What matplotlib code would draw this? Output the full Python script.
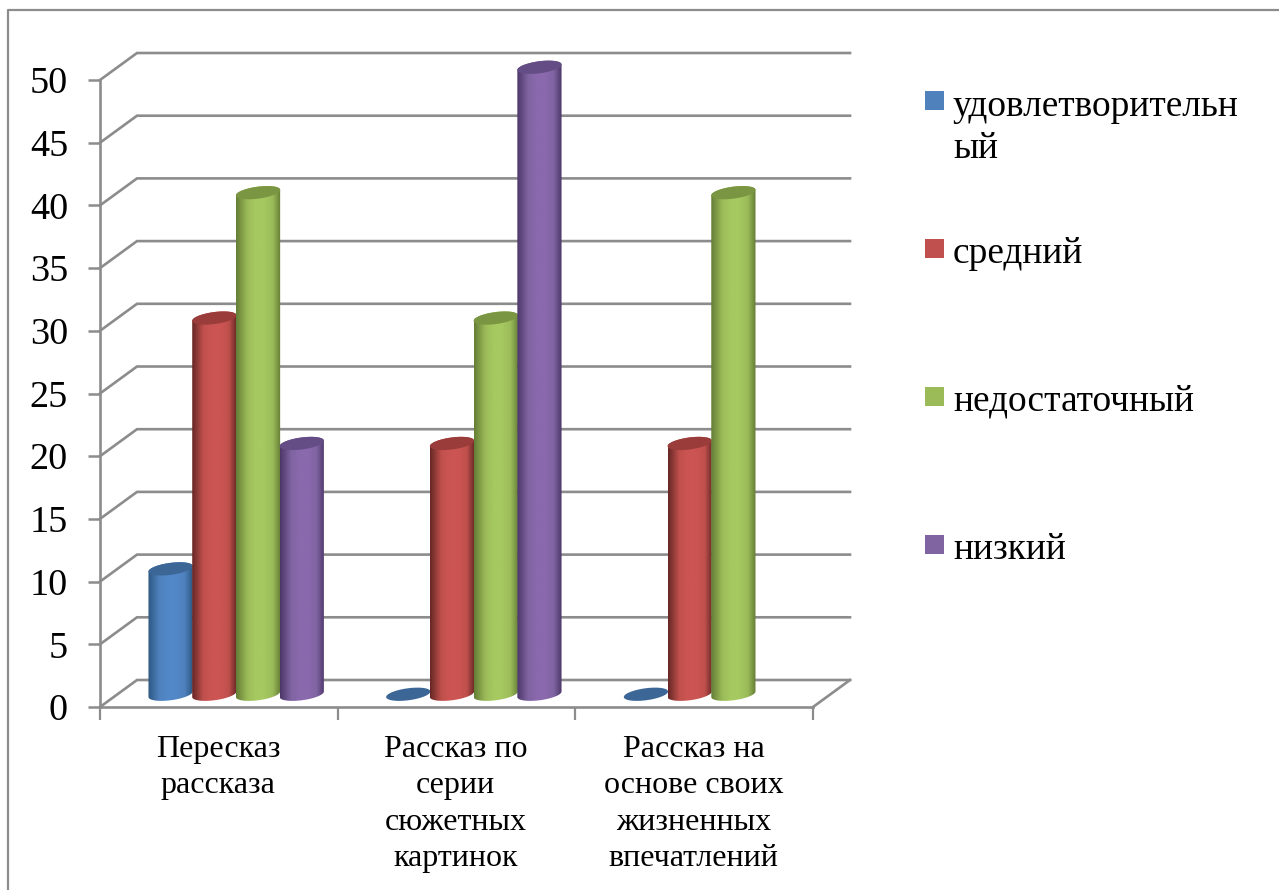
import numpy as np
import matplotlib
matplotlib.use("Agg")
import matplotlib.pyplot as plt
from matplotlib.colors import LinearSegmentedColormap
from matplotlib.patches import PathPatch, Rectangle
from matplotlib.path import Path

plt.rcParams["font.family"] = ["Liberation Serif", "DejaVu Serif"]

categories = ["Пересказ\nрассказа",
              "Рассказ по\nсерии\nсюжетных\nкартинок",
              "Рассказ на\nоснове своих\nжизненных\nвпечатлений"]
series_names = ["удовлетворительн\nый", "средний", "недостаточный", "низкий"]
satisfactory = [10, 0, 0]
average = [30, 20, 20]
insufficient = [40, 30, 40]
low = [20, 50, None]
y_ticks = list(range(0, 55, 5))

series_values = [satisfactory, average, insufficient, low]
face_colors = ["#4f81bd", "#c0504d", "#9bbb59", "#8064a2"]
light_colors = ["#5288c8", "#cc5553", "#a6c961", "#8a69ad"]
edge_colors = ["#2c5782", "#662725", "#647d35", "#4c3768"]
cap_colors = ["#3b6696", "#9a3d3a", "#7a9642", "#644c84"]

GRID = "#8c8c8c"
W, H = 1279, 890
fig = plt.figure(figsize=(W / 100, H / 100), dpi=100, facecolor="white")
ax = fig.add_axes([100 / W, 1 - 707 / H, 713 / W, 627 / H])
ax.set_xlim(0, 3)
ax.set_ylim(0, 50)
ax.patch.set_visible(False)

# Depth of the 3D box, expressed in data units
depth_x = 37 / 713 * 3
depth_y = 27 / 627 * 50

for spine in ("top", "right"):
    ax.spines[spine].set_visible(False)
for spine in ("left", "bottom"):
    ax.spines[spine].set_color(GRID)
    ax.spines[spine].set_linewidth(1.9)

ax.set_yticks(y_ticks)
ax.set_xticks(range(4))
ax.set_xticklabels([])
ax.tick_params(axis="y", length=9, width=1.8, color=GRID, labelsize=27.5, pad=14,
               labelcolor="black")
ax.tick_params(axis="x", length=9, width=1.6, color=GRID)

# Side wall and back wall gridlines
for v in y_ticks:
    ax.plot([0, depth_x, 3 + depth_x], [v, v + depth_y, v + depth_y],
            color=GRID, lw=1.9, clip_on=False, zorder=1, solid_joinstyle="miter")
ax.plot([3, 3 + depth_x], [0, depth_y], color=GRID, lw=1.9, clip_on=False, zorder=1)

# Cylinders
bar_offsets = [0.297, 0.481, 0.665, 0.849]
radius_x = 0.093
radius_y = 0.48
tilt = 0.22
base_y = depth_y / 2 - 0.06
t = np.linspace(0, 2 * np.pi, 121)


def ring(cx, cy, angles):
    return np.column_stack([cx + radius_x * np.cos(angles),
                            cy + radius_y * np.sin(angles) + tilt * np.cos(angles)])


stops = [0, 0.25, 0.44, 0.62, 0.82, 1]
for s, values in enumerate(series_values):
    cmap = LinearSegmentedColormap.from_list(
        f"cyl{s}",
        list(zip(stops, [edge_colors[s], face_colors[s], light_colors[s],
                         light_colors[s], face_colors[s], edge_colors[s]])))
    for g, value in enumerate(values):
        if value is None:
            continue
        cx = g + bar_offsets[s]
        z = 3 + s + g * 0.1
        if value > 0:
            bottom = ring(cx, base_y, np.linspace(np.pi, 2 * np.pi, 60))
            top = ring(cx, base_y + value, np.linspace(0, np.pi, 60))
            verts = np.vstack([bottom, top, bottom[:1]])
            codes = [Path.MOVETO] + [Path.LINETO] * (len(verts) - 2) + [Path.CLOSEPOLY]
            body = PathPatch(Path(verts, codes), facecolor="none", edgecolor="none",
                             transform=ax.transData)
            ax.add_patch(body)
            img = ax.imshow(np.linspace(0, 1, 128)[None, :], cmap=cmap, aspect="auto",
                            extent=[cx - radius_x, cx + radius_x, 0,
                                    base_y + value + radius_y + abs(tilt)],
                            zorder=z, interpolation="bilinear")
            img.set_clip_box(fig.bbox)
            img.set_clip_path(body)
        cap = ring(cx, base_y + value, t)
        ax.add_patch(PathPatch(Path(cap, closed=False), facecolor=cap_colors[s],
                               edgecolor="none", zorder=z + 0.05, clip_on=False))

ax.set_xlim(0, 3)
ax.set_ylim(0, 50)

# Category labels, one centred block under each group
for g, label in enumerate(categories):
    ax.annotate(label, xy=(g + 0.5, 0), xytext=(-0.5, -20), textcoords="offset points",
                ha="center", va="top", fontsize=23, linespacing=1.335, color="black")

# Legend entries placed on the figure: square top edge and first baseline, in pixels
legend_rows = [(91, 116), (239, 263), (387, 411), (535, 559)]
for name, color, (square_y, baseline_y) in zip(series_names, face_colors, legend_rows):
    fig.add_artist(Rectangle((925 / W, 1 - (square_y + 19) / H), 19 / W, 19 / H,
                             transform=fig.transFigure, facecolor=color, edgecolor="none"))
    first, *rest = name.split("\n")
    fig.text(953 / W, 1 - baseline_y / H, first, fontsize=26.9, color="black",
             ha="left", va="baseline")
    for n, line in enumerate(rest, start=1):
        fig.text(953 / W, 1 - (baseline_y + 42 * n) / H, line, fontsize=26.9, color="black",
                 ha="left", va="baseline")

# Chart area border, running off the right and bottom edges
fig.add_artist(plt.Line2D([8 / W, 8 / W, 1.0], [0, 1 - 10 / H, 1 - 10 / H],
                          transform=fig.transFigure, color="#8c8c8c", lw=1.6))

fig.savefig("out.png", dpi=100, facecolor="white")
